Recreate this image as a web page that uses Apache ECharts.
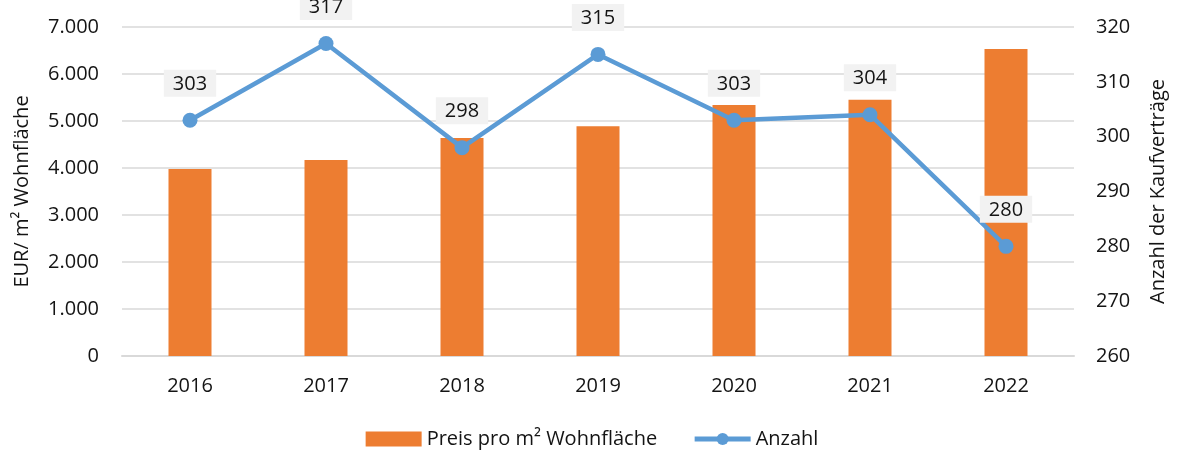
<!DOCTYPE html>
<html><head><meta charset="utf-8">
<script src="https://cdn.jsdelivr.net/npm/echarts@6/dist/echarts.min.js"></script>
<style>html,body{margin:0;padding:0;background:#fff}#c{width:1184px;height:463px}</style>
</head><body><div id="c"></div>
<script>
const years = ['2016','2017','2018','2019','2020','2021','2022'];
const preis = [3980, 4170, 4640, 4890, 5340, 5450, 6530];
const anzahl = [303, 317, 298, 315, 303, 304, 280];
const leftTicks = {min: 0, max: 7000, interval: 1000};
const rightTicks = {min: 260, max: 320, interval: 10};

const FONT = '"Open Sans", "Noto Sans", sans-serif';
const TXT = '#141414';
const chart = echarts.init(document.getElementById('c'));
chart.setOption({
  animation: false,
  textStyle: {fontFamily: FONT},
  grid: {left: 122, right: 110, top: 27, bottom: 107},
  legend: {
    bottom: 9, left: 'center', itemGap: 35, itemWidth: 56, itemHeight: 15,
    textStyle: {fontSize: 20, color: TXT, fontFamily: FONT},
    lineStyle: {width: 5},
    data: [{name: 'Preis pro m² Wohnfläche', icon: 'rect', itemStyle: {}},
           {name: 'Anzahl', lineStyle: {width: 5, color: '#5b9bd5'}}]
  },
  xAxis: {
    type: 'category', data: years,
    axisLine: {lineStyle: {color: '#d9d9d9', width: 2}},
    axisTick: {show: false},
    axisLabel: {fontSize: 20, color: TXT, margin: 20}
  },
  yAxis: [{
    type: 'value', min: leftTicks.min, max: leftTicks.max, interval: leftTicks.interval,
    name: 'EUR/ m² Wohnfläche', nameLocation: 'middle', nameGap: 90, nameRotate: 90,
    nameTextStyle: {fontSize: 20, color: TXT},
    axisLabel: {fontSize: 20, color: TXT, margin: 23,
      formatter: v => v === 0 ? '0' : String(v).replace(/\B(?=(\d{3})+(?!\d))/g, '.')},
    splitLine: {lineStyle: {color: '#d9d9d9', width: 1.5}},
    axisLine: {show: false}, axisTick: {show: false}
  }, {
    type: 'value', min: rightTicks.min, max: rightTicks.max, interval: rightTicks.interval,
    name: 'Anzahl der Kaufverträge', nameLocation: 'middle', nameGap: 74, nameRotate: 90,
    nameTextStyle: {fontSize: 20, color: TXT},
    axisLabel: {fontSize: 20, color: TXT, margin: 22},
    splitLine: {show: false}, axisLine: {show: false}, axisTick: {show: false}
  }],
  series: [{
    name: 'Preis pro m² Wohnfläche', type: 'bar', data: preis, yAxisIndex: 0,
    barWidth: 43, itemStyle: {color: '#ed7d31'}
  }, {
    name: 'Anzahl', type: 'line', data: anzahl, yAxisIndex: 1,
    symbol: 'circle', symbolSize: 15,
    lineStyle: {color: '#5b9bd5', width: 4.5}, itemStyle: {color: '#5b9bd5'},
    label: {show: true, position: 'top', distance: 16, fontSize: 20, color: TXT,
      backgroundColor: '#f2f2f2', padding: [4, 9, 2, 9], lineHeight: 21}
  }]
});
</script></body></html>
